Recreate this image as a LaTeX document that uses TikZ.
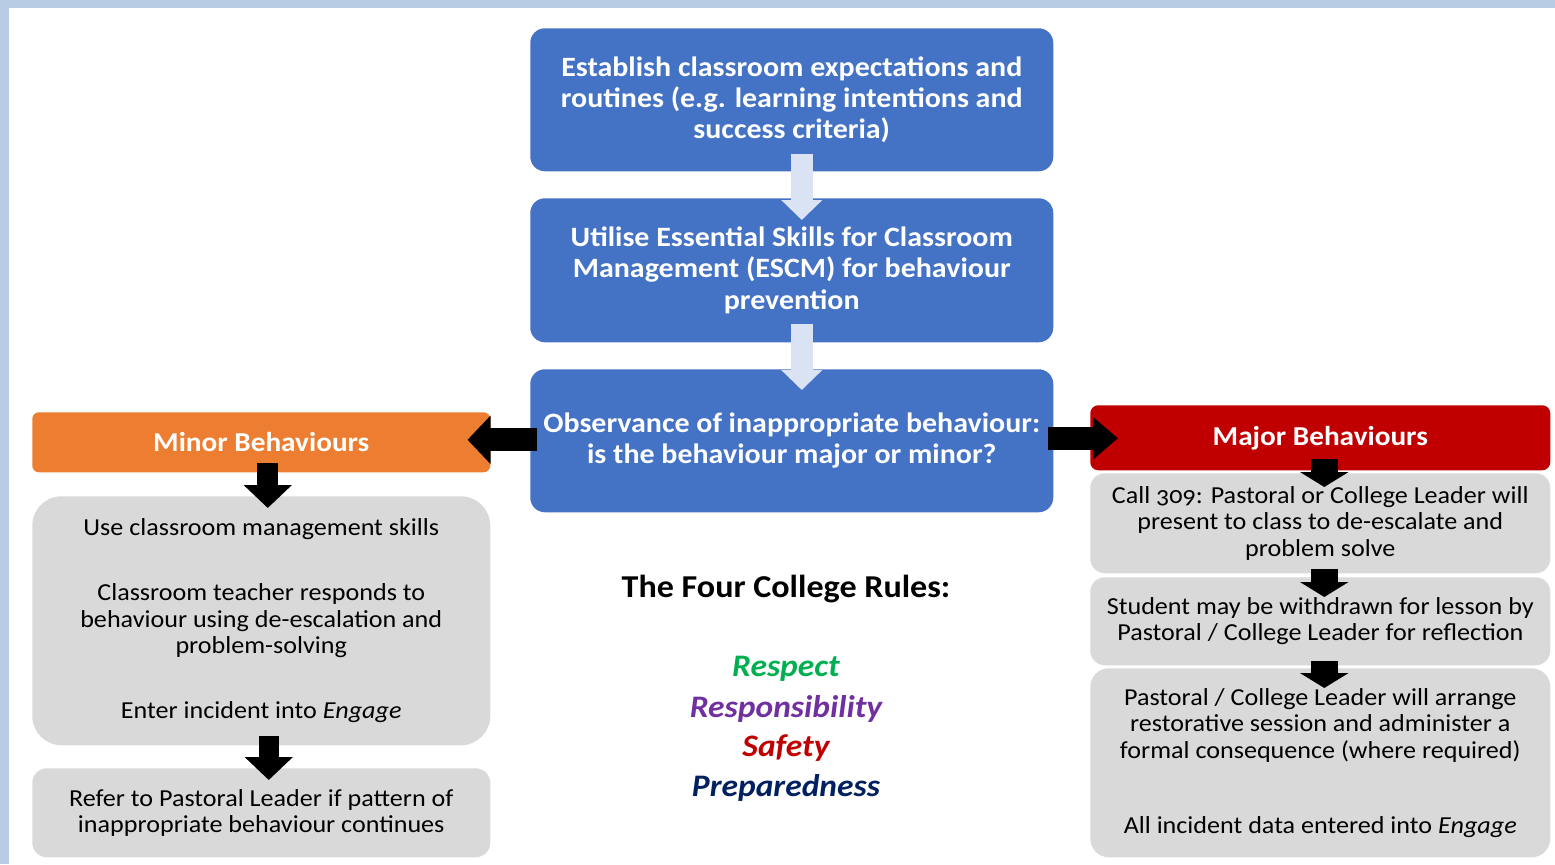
\documentclass[tikz,border=0pt]{standalone}
\usepackage{fontspec}
\setmainfont{Carlito}[Numbers=OldStyle,FakeStretch=1.07]
\usetikzlibrary{arrows.meta,calc}
\definecolor{frameblue}{HTML}{B8CCE4}
\definecolor{boxblue}{HTML}{4472C4}
\definecolor{minororange}{HTML}{ED7D31}
\definecolor{majorred}{HTML}{C00000}
\definecolor{boxgray}{HTML}{D9D9D9}
\definecolor{lightarr}{HTML}{DAE3F3}
\definecolor{rgreen}{HTML}{00B050}
\definecolor{rpurple}{HTML}{7030A0}
\definecolor{rred}{HTML}{C00000}
\definecolor{rnavy}{HTML}{002060}
\begin{document}
\begin{tikzpicture}[x=0.75pt,y=-0.75pt,
  basebox/.style={rectangle, inner sep=0pt, align=center, anchor=north west},
  bluestep/.style={basebox, fill=boxblue, rounded corners=11pt, text=white,
    minimum width=392.25pt, font=\fontsize{21}{23.5}\selectfont\bfseries},
  headbox/.style={basebox, text=white, minimum width=344pt,
    font=\fontsize{20.5}{23.5}\selectfont\bfseries},
  graybox/.style={basebox, fill=boxgray, text=black,
    font=\fontsize{18.3}{19.9}\selectfont},
  lightarrow/.style={draw=lightarr, line width=16.5pt,
    -{Triangle[width=30pt,length=15pt]}},
  bigblack/.style={draw=black, line width=17.25pt,
    -{Triangle[width=35.25pt,length=17.25pt]}},
  smallblack/.style={draw=black, line width=20pt,
    -{Triangle[width=36pt,length=11.25pt]}},
  rule/.style={font=\fontsize{23.5}{26}\selectfont\bfseries\itshape}
]
\useasboundingbox (0,0) rectangle (1555,864);
\fill[frameblue] (0,0) rectangle (1555,8);
\fill[frameblue] (0,0) rectangle (9,864);

% centre column
\node[bluestep, minimum height=107.25pt] (b1) at (530,28)
  {Establish classroom expectations and\\ routines (e.g. learning intentions and\\ success criteria)};
\node[bluestep, minimum height=108pt] (b2) at (530,198)
  {Utilise Essential Skills for Classroom\\ Management (ESCM) for behaviour\\ prevention};
\node[bluestep, minimum height=107.25pt] (b3) at (530,369)
  {Observance of inappropriate behaviour:\\ is the behaviour major or minor?};

% headers
\node[headbox, fill=minororange, rounded corners=5pt, minimum width=343.5pt,
  minimum height=45pt] (minor) at (32,412) {Minor Behaviours};
\node[headbox, fill=majorred, rounded corners=6pt, minimum width=345pt,
  minimum height=48.75pt] (major) at (1090,405) {Major Behaviours};

% left column
\node[graybox, rounded corners=22pt, minimum width=343.5pt, minimum height=186.75pt] (L1) at (32,496)
  {Use classroom management skills\\[28.9pt]
   Classroom teacher responds to\\ behaviour using de-escalation and\\ problem-solving\\[28.9pt]
   Enter incident into \textit{Engage}};
\node[graybox, rounded corners=11pt, minimum width=343.5pt, minimum height=66.75pt] (L2) at (32,768)
  {Refer to Pastoral Leader if pattern of\\ inappropriate behaviour continues};

% right column
\node[graybox, rounded corners=11pt, minimum width=345pt, minimum height=75pt] (R1) at (1090,473)
  {Call 309: Pastoral or College Leader will\\ present to class to de-escalate and\\ problem solve};
\node[graybox, rounded corners=11pt, minimum width=345pt, minimum height=66pt] (R2) at (1090,577)
  {Student may be withdrawn for lesson by\\ Pastoral / College Leader for reflection};
\node[graybox, rounded corners=14pt, minimum width=345pt, minimum height=141.75pt] (R3) at (1090,668)
  {Pastoral / College Leader will arrange\\ restorative session and administer a\\ formal consequence (where required)\\[36.4pt]
   All incident data entered into \textit{Engage}};

% rules
\node[font=\fontsize{23.9}{26}\selectfont\bfseries] (title) at (786,589) {The Four College Rules:};
\node[rule, text=rgreen] (r1) at (786,669) {Respect};
\node[rule, text=rpurple] (r2) at (786,709) {Responsibility};
\node[rule, text=rred] (r3) at (786,748) {Safety};
\node[rule, text=rnavy] (r4) at (786,788) {Preparedness};

% arrows
\draw[lightarrow] ($(b1.south)+(10,-18)$) -- ($(b2.north)+(10,22)$);
\draw[lightarrow] ($(b2.south)+(10,-19)$) -- ($(b3.north)+(10,21)$);
\draw[bigblack] ($(b3.west)+(7,-1)$) -- ($(minor.east)+(-23,-2.5)$);
\draw[bigblack, -{Triangle[width=30.75pt,length=18.75pt]}] ($(b3.east)+(-6,-2.5)$) -- ($(major.west)+(28,0.5)$);
\draw[bigblack, line width=15.75pt] ($(minor.south)+(6.5,-10)$) -- ($(L1.north)+(6.5,12)$);
\draw[bigblack, line width=15pt] ($(L1.south)+(7.5,-10)$) -- ($(L2.north)+(7.5,12)$);
\draw[smallblack] ($(major.south)+(4,-12)$) -- ($(R1.north)+(4,14)$);
\draw[smallblack] ($(R1.south)+(4,-5)$) -- ($(R2.north)+(4,20)$);
\draw[smallblack] ($(R2.south)+(4,-5)$) -- ($(R3.north)+(4,20)$);
\end{tikzpicture}
\end{document}
